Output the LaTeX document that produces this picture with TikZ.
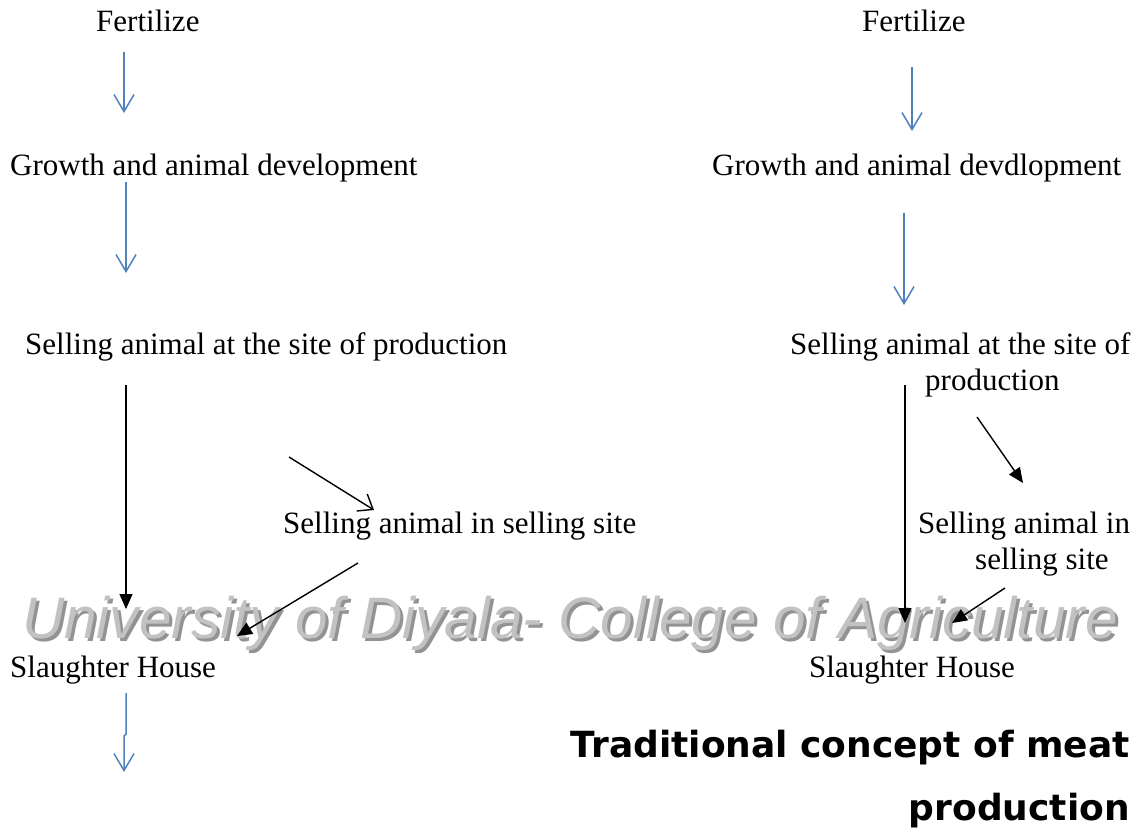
\documentclass[tikz,border=0pt]{standalone}
\usepackage{fontspec}
\setmainfont{Liberation Serif}
\newfontfamily\wmfont{Liberation Sans}
\newfontfamily\headfont{DejaVu Sans}
\usetikzlibrary{arrows.meta}
\definecolor{flowblue}{HTML}{4F81BD}
\definecolor{wmlight}{HTML}{C2C2C2}
\definecolor{wmshade}{HTML}{939393}
\tikzset{
  lbl/.style={inner sep=0pt, anchor=base west, font=\fontsize{31}{37}\selectfont},
  headline/.style={inner sep=0pt, anchor=base east, font=\headfont\bfseries\fontsize{36}{40}\selectfont},
  wmtext/.style={inner sep=0pt, anchor=base west, font=\wmfont\itshape\fontsize{58.5}{62}\selectfont},
  bluearrow/.style={draw=flowblue, line width=1.5pt, -{Straight Barb[length=17pt,width=20pt,line width=1.5pt]}},
  blackarrow/.style={draw=black, line width=1.4pt, -{Triangle[length=15pt,width=13pt]}},
  openarrow/.style={draw=black, line width=1.4pt, -{Straight Barb[length=13pt,width=20pt,line width=1.4pt]}}
}
\begin{document}
\begin{tikzpicture}[x=1pt,y=-1pt]
\useasboundingbox (0,0) rectangle (1142,830);

% watermark behind the flow
\node[wmtext, text=wmshade] (wmshadow) at (25,641) {University of Diyala- College of Agriculture};
\node[wmtext, text=wmlight] (wm) at (22,638) {University of Diyala- College of Agriculture};

% left column
\node[lbl] (lfert) at (96,31) {Fertilize};
\node[lbl] (lgrow) at (10,175) {Growth and animal development};
\node[lbl] (lsite) at (25,354) {Selling animal at the site of production};
\node[lbl] (lsell) at (283,533) {Selling animal in selling site};
\node[lbl] (lslau) at (10,677) {Slaughter House};

% right column
\node[lbl] (rfert) at (862,31) {Fertilize};
\node[lbl] (rgrow) at (712,175) {Growth and animal devdlopment};
\node[lbl] (rsite) at (790,354) {Selling animal at the site of};
\node[lbl] (rsite2) at (925,390) {production};
\node[lbl] (rsell) at (918,533) {Selling animal in};
\node[lbl] (rsell2) at (975,569) {selling site};
\node[lbl] (rslau) at (809,677) {Slaughter House};

% caption
\node[headline] (cap1) at (1130,757) {Traditional concept of meat};
\node[headline] (cap2) at (1130,820) {production};

% arrow end points
\coordinate (a1s) at (124,52);   \coordinate (a1e) at (124,113);
\coordinate (a2s) at (126,182);  \coordinate (a2e) at (126,273);
\coordinate (a3s) at (126,385);  \coordinate (a3e) at (126,609);
\coordinate (a4s) at (289,457);  \coordinate (a4e) at (374,510);
\coordinate (a5s) at (358,563);  \coordinate (a5e) at (237,636);
\coordinate (a6s) at (126,693);  \coordinate (a6m) at (126,734);
\coordinate (a6n) at (124,736);  \coordinate (a6e) at (124,772);
\coordinate (b1s) at (912,67);   \coordinate (b1e) at (912,131);
\coordinate (b2s) at (904,213);  \coordinate (b2e) at (904,305);
\coordinate (b3s) at (905,385);  \coordinate (b3e) at (905,623);
\coordinate (b4s) at (977,417);  \coordinate (b4e) at (1023,483);
\coordinate (b5s) at (1005,588); \coordinate (b5e) at (952,623);

% left flow
\draw[bluearrow] (a1s) -- (a1e);
\draw[bluearrow] (a2s) -- (a2e);
\draw[blackarrow] (a3s) -- (a3e);
\draw[openarrow] (a4s) -- (a4e);
\draw[blackarrow] (a5s) -- (a5e);
\draw[bluearrow] (a6s) -- (a6m) -- (a6n) -- (a6e);

% right flow
\draw[bluearrow] (b1s) -- (b1e);
\draw[bluearrow] (b2s) -- (b2e);
\draw[blackarrow] (b3s) -- (b3e);
\draw[blackarrow] (b4s) -- (b4e);
\draw[blackarrow] (b5s) -- (b5e);
\end{tikzpicture}
\end{document}
